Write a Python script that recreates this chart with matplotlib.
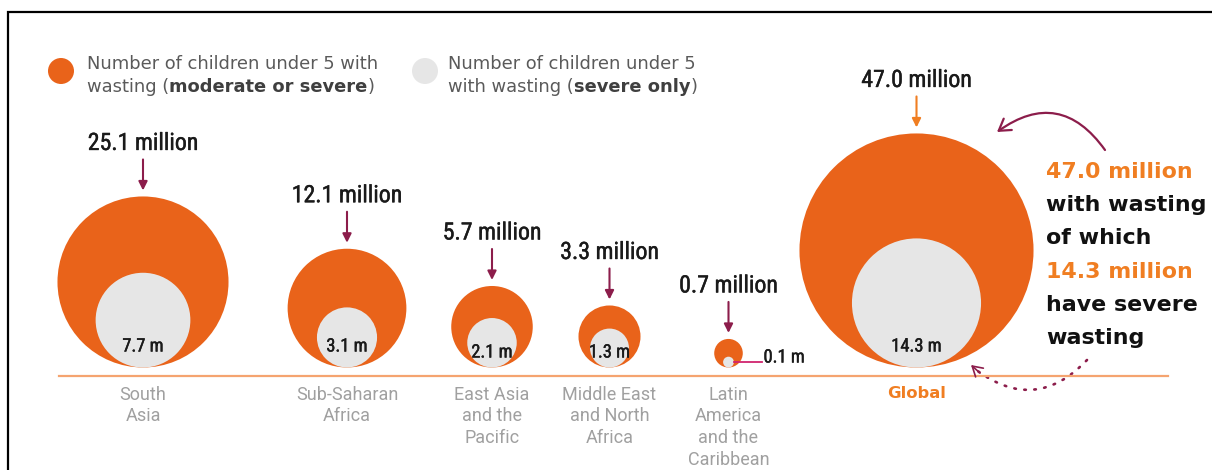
import matplotlib
matplotlib.use("Agg")
import matplotlib.pyplot as plt
from matplotlib.patches import Circle, FancyArrowPatch
from matplotlib import font_manager as fm
import matplotlib.patheffects as pe
import numpy as np

# ---------------- data ----------------
categories = ["South\nAsia", "Sub-Saharan\nAfrica", "East Asia\nand the\nPacific",
              "Middle East\nand North\nAfrica", "Latin\nAmerica\nand the\nCaribbean", "Global"]
moderate_or_severe = [25.1, 12.1, 5.7, 3.3, 0.7, 47.0]   # million
severe_only = [7.7, 3.1, 2.1, 1.3, 0.1, 14.3]             # million

# ---------------- layout ----------------
W, H = 1212, 470
x_centers = [143, 347, 492, 609.5, 728.5, 916.5]
base_y = 367.5          # bottom of circles (pixels from top)
line_y = 375.5          # orange baseline
k = 17.07               # pixel radius per sqrt(million)

ORANGE = "#E9631A"
ORANGE_LT = "#F07E22"
GRAY_IN = "#E6E6E6"
MAROON = "#8C1D4B"
PINK = "#D0246E"
BASE_COL = "#F5A470"
CAT_COL = "#A0A0A0"


def pick(*names):
    for n in names:
        try:
            fm.findfont(fm.FontProperties(family=n), fallback_to_default=False)
            return n
        except Exception:
            continue
    return "DejaVu Sans"


F_NARROW = pick("Liberation Sans Narrow", "Roboto Condensed", "Roboto", "Liberation Sans")
F_REG = pick("Roboto", "Lato", "DejaVu Sans")
F_WIDE = "DejaVu Sans"

fig = plt.figure(figsize=(W / 100, H / 100), dpi=100)
ax = fig.add_axes([0, 0, 1, 1])
ax.set_xlim(0, W)
ax.set_ylim(H, 0)
ax.axis("off")

thick = [pe.withStroke(linewidth=0.3, foreground="#1a1a1a")]

# frame
ax.plot([8, 8, W], [H, 12, 12], color="black", lw=1.6, solid_joinstyle="miter")

# baseline
ax.plot([59, 1168], [line_y, line_y], color=BASE_COL, lw=1.6)

for i, (cat, tot, sev) in enumerate(zip(categories, moderate_or_severe, severe_only)):
    x = x_centers[i]
    R = k * np.sqrt(tot)
    r = k * np.sqrt(sev)
    ax.add_patch(Circle((x, base_y - R), R, facecolor=ORANGE, edgecolor="none", zorder=2))
    ax.add_patch(Circle((x, base_y - r), r, facecolor=GRAY_IN, edgecolor="none", zorder=3))
    top = base_y - 2 * R
    is_global = cat == "Global"
    # top label + arrow
    ax.text(x, top - 53, f"{tot:.1f} million", ha="center", va="center",
            fontsize=17.2, family=F_NARROW, color="#1a1a1a", zorder=5, path_effects=thick)
    ax.annotate("", xy=(x, top - 6), xytext=(x, top - 37),
                arrowprops=dict(arrowstyle="-|>", color=ORANGE_LT if is_global else MAROON,
                                lw=1.5, mutation_scale=13, shrinkA=0, shrinkB=0))
    # inner label
    lbl = f"{sev:.1f} m"
    if r > 12:
        off = 21 if r > 28 else 15
        ax.text(x, base_y - off, lbl, ha="center", va="center", fontsize=13.3,
                family=F_NARROW, color="#1a1a1a", zorder=5, path_effects=thick)
    else:
        ax.plot([x + r, x + 33], [base_y - r, base_y - r], color=PINK, lw=1.3, zorder=4)
        ax.text(x + 35, base_y - 10, lbl, ha="left", va="center", fontsize=13.3,
                family=F_NARROW, color="#1a1a1a", zorder=5, path_effects=thick)
    # category label
    if is_global:
        ax.text(x, 394, cat, ha="center", va="center", fontsize=11.8,
                family=F_WIDE, fontweight="bold", color=ORANGE_LT)
    else:
        ax.text(x, 385.5, cat, ha="center", va="top", fontsize=13, family=F_REG,
                color=CAT_COL, linespacing=1.28)

# ---------------- legend ----------------
renderer = fig.canvas.get_renderer()


def rich_line(x, y, parts, **kw):
    for txt, bold in parts:
        t = ax.text(x, y, txt, ha="left", va="baseline", fontsize=12.9, family=F_WIDE,
                    fontweight="bold" if bold else "normal",
                    color="#3f3f3f" if bold else "#5a5a5a", **kw)
        bb = t.get_window_extent(renderer=renderer)
        x0, _ = ax.transData.inverted().transform((bb.x0, 0))
        x1, _ = ax.transData.inverted().transform((bb.x1, 0))
        x += x1 - x0


ax.add_patch(Circle((61, 71), 13, facecolor=ORANGE, edgecolor="none"))
ax.add_patch(Circle((425, 71), 13, facecolor=GRAY_IN, edgecolor="none"))
rich_line(87, 69, [("Number of children under 5 with", False)])
rich_line(87, 92, [("wasting (", False), ("moderate or severe", True), (")", False)])
rich_line(448, 69, [("Number of children under 5", False)])
rich_line(448, 92, [("with wasting (", False), ("severe only", True), (")", False)])

# ---------------- right annotation ----------------
right_lines = [("47.0 million", ORANGE_LT), ("with wasting", "#111111"), ("of which", "#111111"),
               ("14.3 million", ORANGE_LT), ("have severe", "#111111"), ("wasting", "#111111")]
for j, (txt, col) in enumerate(right_lines):
    ax.text(1046, 172 + j * 33.2, txt, ha="left", va="center", fontsize=15.9,
            family=F_WIDE, fontweight="bold", color=col)

arr1 = FancyArrowPatch((1105, 150), (997, 132), connectionstyle="arc3,rad=0.5",
                       arrowstyle="->,head_length=8,head_width=5", color=MAROON, lw=1.6,
                       shrinkA=0, shrinkB=0)
ax.add_patch(arr1)
arr2 = FancyArrowPatch((1087, 360), (975, 369), connectionstyle="arc3,rad=-0.45",
                       arrowstyle="-", color=MAROON, lw=1.9,
                       linestyle=(0, (0.6, 3.2)), capstyle="round", shrinkA=0, shrinkB=0)
ax.add_patch(arr2)
ax.annotate("", xy=(971, 365), xytext=(980, 373),
            arrowprops=dict(arrowstyle="->,head_length=0.5,head_width=0.3", color=MAROON,
                            lw=1.2, shrinkA=0, shrinkB=0, mutation_scale=14))

fig.savefig("out.png", dpi=100)
